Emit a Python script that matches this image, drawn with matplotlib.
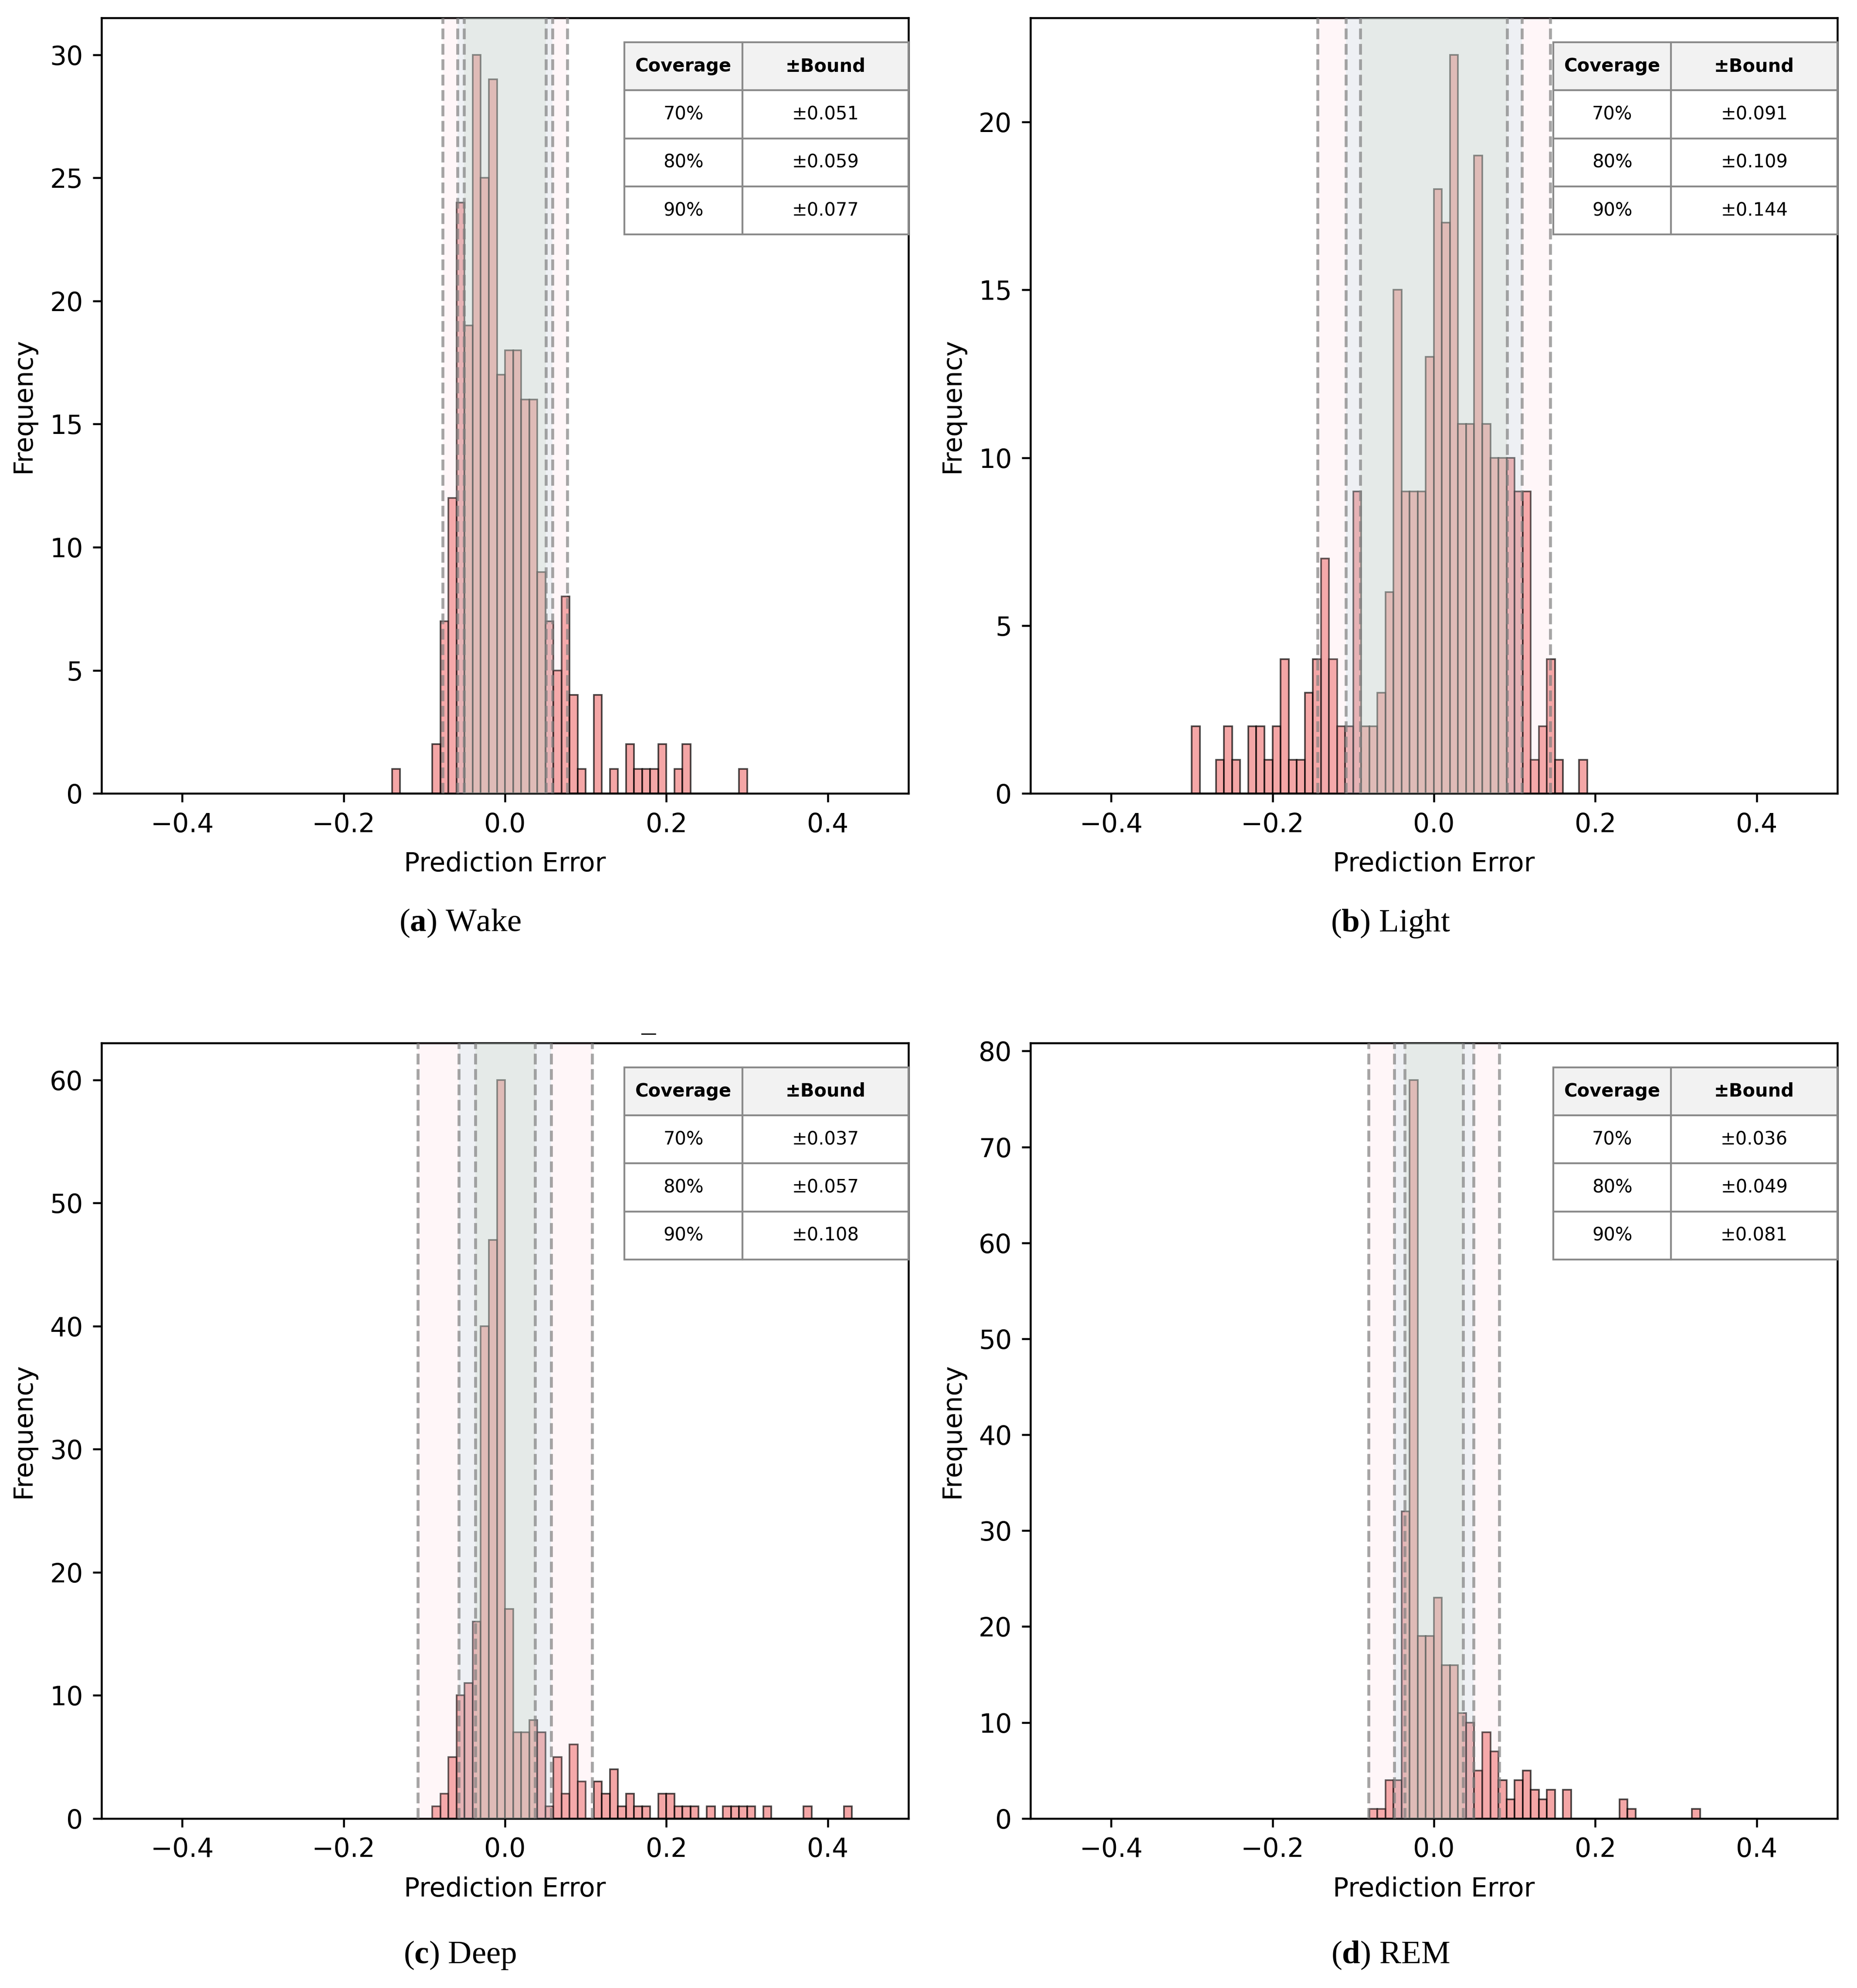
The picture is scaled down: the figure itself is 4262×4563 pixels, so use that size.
import numpy as np
import matplotlib.pyplot as plt

# histogram counts, 0.01 wide bins starting at first_bin
bin_width = 0.01
stages = ['Wake', 'Light', 'Deep', 'REM']
letters = ['a', 'b', 'c', 'd']
first_bins = [-0.14, -0.30, -0.09, -0.08]

wake_counts = [1, 0, 0, 0, 0, 2, 7, 12, 24, 19, 30, 25, 29, 17, 18, 18, 16, 16, 9, 7,
               5, 8, 4, 1, 0, 4, 0, 1, 0, 2, 1, 1, 1, 2, 0, 1, 2, 0, 0, 0, 0, 0, 0, 1]
light_counts = [2, 0, 0, 1, 2, 1, 0, 2, 2, 1, 2, 4, 1, 1, 3, 4, 7, 4, 2, 2, 9, 2, 2, 3, 6,
                15, 9, 9, 9, 13, 18, 17, 22, 11, 11, 19, 11, 10, 10, 10, 9, 9, 1, 2, 4, 1, 0, 0, 1]
deep_counts = [1, 2, 5, 10, 11, 16, 40, 47, 60, 17, 7, 7, 8, 7, 1, 5, 2, 6, 3, 0, 3, 2, 4, 1,
               2, 1, 1, 0, 2, 2, 1, 1, 1, 0, 1, 0, 1, 1, 1, 1, 0, 1, 0, 0, 0, 0, 1, 0, 0, 0, 0, 1]
rem_counts = [1, 1, 4, 4, 32, 77, 19, 19, 23, 16, 16, 11, 10, 5, 9, 7, 4, 2, 4, 5, 3, 2, 3, 0,
              3, 0, 0, 0, 0, 0, 0, 2, 1, 0, 0, 0, 0, 0, 0, 0, 1]
all_counts = [wake_counts, light_counts, deep_counts, rem_counts]

coverage = ['70%', '80%', '90%']
wake_bounds = [0.051, 0.059, 0.077]
light_bounds = [0.091, 0.109, 0.144]
deep_bounds = [0.037, 0.057, 0.108]
rem_bounds = [0.036, 0.049, 0.081]
all_bounds = [wake_bounds, light_bounds, deep_bounds, rem_bounds]

band_colors = ['#c9dac1', '#add8e6', '#ffc0cb']  # 70, 80, 90
band_alphas = [0.23, 0.2, 0.13]

plt.rcParams['font.size'] = 14.4
plt.rcParams['axes.linewidth'] = 1.08
plt.rcParams['axes.labelpad'] = 7.5
for ax_name in ['xtick', 'ytick']:
    plt.rcParams[ax_name + '.major.size'] = 4.7
    plt.rcParams[ax_name + '.major.width'] = 1.08
    plt.rcParams[ax_name + '.major.pad'] = 5.5
plt.rcParams['mathtext.fontset'] = 'custom'
plt.rcParams['mathtext.rm'] = 'Liberation Serif'
plt.rcParams['mathtext.bf'] = 'Liberation Serif:bold'

fig = plt.figure(figsize=(4262 / 300, 4563 / 300), dpi=300)

lefts = [0.0547, 0.5549, 0.0547, 0.5549]
bottoms = [0.6009, 0.6009, 0.0853, 0.0853]
cap_x = [0.2478, 0.7488, 0.2478, 0.7488]
cap_y = [0.5355, 0.5355, 0.0164, 0.0164]

for i in range(4):
    ax = fig.add_axes([lefts[i], bottoms[i], 0.4345, 0.3901])
    counts = all_counts[i]
    edges = first_bins[i] + bin_width * np.arange(len(counts) + 1)
    ax.hist(edges[:-1] + bin_width / 2, bins=edges, weights=counts, color='lightcoral',
            alpha=0.7, edgecolor='black', linewidth=0.9, zorder=2)

    bounds = all_bounds[i]
    # widest band first so the inner ones stack on top
    for b, c, a in zip(bounds[::-1], band_colors[::-1], band_alphas[::-1]):
        ax.axvspan(-b, b, color=c, alpha=a, lw=0, zorder=3)
    for b in bounds:
        ax.axvline(-b, color='gray', ls='--', lw=1.6, alpha=0.7, zorder=4)
        ax.axvline(b, color='gray', ls='--', lw=1.6, alpha=0.7, zorder=4)

    ax.set_xlim(-0.5, 0.5)
    ax.set_xticks([-0.4, -0.2, 0.0, 0.2, 0.4])
    ax.set_xlabel('Prediction Error')
    ax.set_ylabel('Frequency')

    rows = [[cv, '±%.3f' % b] for cv, b in zip(coverage, bounds)]
    tbl = ax.table(cellText=rows, colLabels=['Coverage', '±Bound'], cellLoc='center',
                   colWidths=[0.415, 0.585], bbox=[0.648, 0.7206, 0.352, 0.248])
    tbl.auto_set_font_size(False)
    tbl.set_fontsize(10)
    tbl.set_zorder(10)
    for (r, c), cell in tbl.get_celld().items():
        cell.set_edgecolor('#8a8a8a')
        cell.set_linewidth(1.0)
        if r == 0:
            cell.set_facecolor('#f2f2f2')
            cell.get_text().set_fontweight('bold')

    fig.text(cap_x[i], cap_y[i], r'($\mathbf{%s}$) %s' % (letters[i], stages[i]),
             family='Liberation Serif', fontsize=18, ha='center', va='center')

fig.text(0.349, 0.4797, '—', fontsize=9, ha='center', va='center')

fig.savefig('out.png', dpi=300)
